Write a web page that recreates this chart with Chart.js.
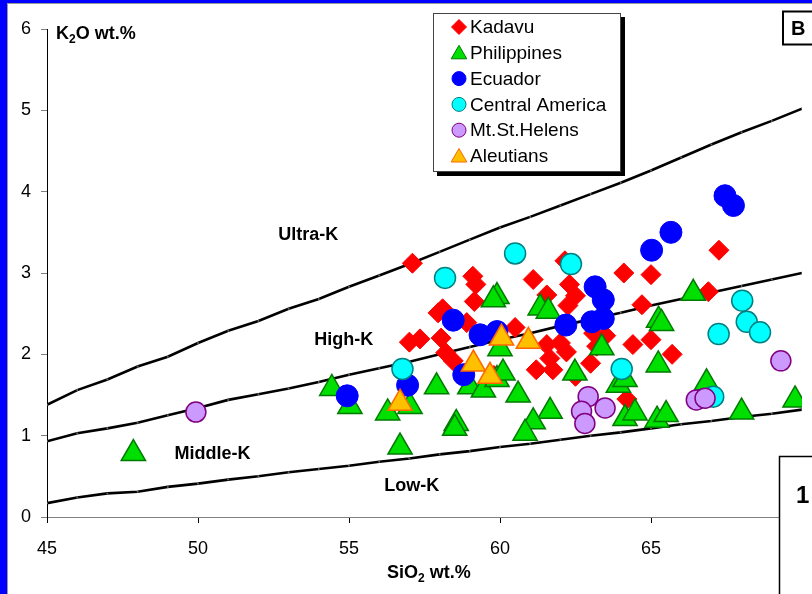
<!DOCTYPE html>
<html>
<head>
<meta charset="utf-8">
<script src="https://cdn.jsdelivr.net/npm/chart.js@4.4.0/dist/chart.umd.min.js"></script>
<style>
  html, body { margin: 0; padding: 0; background: #0000ff; overflow: hidden; }
  #panel { position: absolute; left: 7px; top: 3px; width: 830px; height: 620px; background: #fff;
           border-left: 1px solid #9a9a9a; border-top: 1px solid #9a9a9a; }
  #chart { position: absolute; left: 0; top: 0; }
</style>
</head>
<body>
<div id="panel"></div>
<canvas id="chart" width="812" height="594"></canvas>
<script>
// SiO2 vs K2O classification plot
const xTicks = [45, 50, 55, 60, 65, 70];
const yTicks = [0, 1, 2, 3, 4, 5, 6];

const boundarySiO2 = [45, 46, 47, 48, 49, 50, 51, 52, 53, 54, 55, 56, 57, 58, 59, 60, 61, 62, 63, 64, 65, 66, 67, 68, 69, 70];
const ultraKLine = [1.38, 1.56, 1.69, 1.85, 1.97, 2.14, 2.29, 2.41, 2.56, 2.68, 2.83, 2.97, 3.11, 3.26, 3.41, 3.56, 3.69, 3.83, 3.97, 4.11, 4.26, 4.42, 4.58, 4.73, 4.87, 5.02];
const highKLine = [0.93, 1.03, 1.09, 1.16, 1.25, 1.34, 1.44, 1.51, 1.58, 1.66, 1.75, 1.83, 1.91, 2.00, 2.09, 2.18, 2.26, 2.35, 2.43, 2.51, 2.60, 2.68, 2.76, 2.84, 2.92, 3.00];
const lowKLine = [0.17, 0.24, 0.29, 0.31, 0.37, 0.41, 0.46, 0.50, 0.55, 0.59, 0.63, 0.68, 0.72, 0.77, 0.81, 0.86, 0.90, 0.95, 1.00, 1.04, 1.09, 1.14, 1.18, 1.23, 1.27, 1.32];

const kadavuSiO2 = [57.1, 59.1, 59.2, 59.15, 57.95, 58.1, 58.9, 57.0, 57.35, 58.05, 58.2, 58.45, 59.8, 59.9, 61.1, 62.15, 61.55, 62.3, 62.5, 62.25, 64.1, 65.0, 64.7, 60.5, 64.4, 65.0, 61.55, 62.0, 62.2, 61.2, 61.75, 61.65, 63.0, 63.2, 64.2, 62.5, 67.25, 66.9, 65.7, 63.1, 63.5];
const kadavuK2O = [3.12, 2.96, 2.86, 2.65, 2.51, 2.56, 2.39, 2.15, 2.19, 2.20, 2.02, 1.92, 1.74, 2.22, 2.92, 3.15, 2.73, 2.86, 2.72, 2.60, 3.00, 2.98, 2.61, 2.33, 2.12, 2.18, 2.12, 2.14, 2.03, 1.81, 1.81, 1.95, 1.89, 2.10, 1.45, 1.73, 3.28, 2.77, 2.00, 2.26, 2.23];

const philippinesSiO2 = [47.86, 54.43, 55.03, 56.28, 56.69, 57.02, 57.9, 58.55, 58.5, 59.9, 59.78, 60.0, 59.0, 59.45, 59.9, 60.1, 60.6, 61.66, 61.1, 60.83, 61.33, 61.6, 63.37, 62.48, 63.92, 64.14, 64.14, 64.47, 65.2, 65.5, 65.25, 65.35, 65.24, 66.4, 66.84, 69.77, 68.0];
const philippinesK2O = [0.78, 1.58, 1.36, 1.28, 0.86, 1.36, 1.60, 1.15, 1.09, 2.71, 2.67, 2.07, 1.60, 1.56, 1.69, 1.77, 1.50, 1.30, 1.17, 1.03, 2.57, 2.53, 2.08, 1.77, 1.62, 1.69, 1.21, 1.28, 1.19, 1.26, 2.42, 2.38, 1.87, 2.75, 1.65, 1.44, 1.29];

const ecuadorSiO2 = [54.94, 56.94, 58.8, 58.45, 59.34, 59.9, 63.15, 63.42, 63.04, 63.42, 62.18, 65.02, 67.45, 67.73, 65.66];
const ecuadorK2O = [1.49, 1.62, 1.75, 2.42, 2.24, 2.28, 2.83, 2.67, 2.40, 2.44, 2.36, 3.28, 3.95, 3.83, 3.50];

const centralAmSiO2 = [58.18, 60.5, 62.35, 56.77, 64.03, 68.02, 68.17, 68.61, 67.24, 67.06];
const centralAmK2O = [2.94, 3.24, 3.11, 1.82, 1.82, 2.66, 2.40, 2.27, 2.25, 1.48];

const stHelensSiO2 = [49.93, 62.92, 62.7, 62.81, 63.48, 66.5, 66.79, 69.3];
const stHelensK2O = [1.29, 1.48, 1.30, 1.15, 1.34, 1.44, 1.46, 1.92];

const aleutiansSiO2 = [56.69, 59.12, 59.67, 60.05, 60.94];
const aleutiansK2O = [1.40, 1.88, 1.73, 2.20, 2.16];

const FONT = '"Liberation Sans", Arial, sans-serif';

function pairs(xs, ys) {
    return xs.map((x, i) => ({ x: x, y: ys[i] }));
}

// legend entries, drawn by hand below
const legendItems = [
    { label: 'Kadavu', shape: 'diamond', fill: '#ff0000', stroke: '#ff0000' },
    { label: 'Philippines', shape: 'triangle', fill: '#00e000', stroke: '#007a00' },
    { label: 'Ecuador', shape: 'circle', fill: '#0000ff', stroke: '#0000ff' },
    { label: 'Central America', shape: 'circle', fill: '#00ffff', stroke: '#008080' },
    { label: 'Mt.St.Helens', shape: 'circle', fill: '#cc99ff', stroke: '#800080' },
    { label: 'Aleutians', shape: 'triangle', fill: '#ffc000', stroke: '#ff6600' }
];

function marker(ctx, shape, x, y, r, fill, stroke) {
    ctx.beginPath();
    if (shape === 'diamond') {
        ctx.moveTo(x - r, y); ctx.lineTo(x, y - r); ctx.lineTo(x + r, y); ctx.lineTo(x, y + r);
    } else if (shape === 'triangle') {
        ctx.moveTo(x, y - r);
        ctx.lineTo(x + r * 0.866, y + r / 2);
        ctx.lineTo(x - r * 0.866, y + r / 2);
    } else {
        ctx.arc(x, y, r, 0, Math.PI * 2);
    }
    ctx.closePath();
    ctx.fillStyle = fill;
    ctx.fill();
    ctx.lineWidth = 1;
    ctx.strokeStyle = stroke;
    ctx.stroke();
}

// text with subscript parts: [[text, isSub], ...]
function subText(ctx, parts, x, y) {
    parts.forEach(p => {
        ctx.font = p[1] ? 'bold 12px ' + FONT : 'bold 18px ' + FONT;
        ctx.fillText(p[0], x, p[1] ? y + 4 : y);
        x += ctx.measureText(p[0]).width;
    });
}

const extras = {
    id: 'extras',
    afterDraw(chart) {
        const ctx = chart.ctx;
        const xs = chart.scales.x, ys = chart.scales.y;
        ctx.save();
        ctx.fillStyle = '#000';
        ctx.textAlign = 'center';
        ctx.textBaseline = 'middle';
        ctx.font = 'bold 18px ' + FONT;
        ctx.fillText('Ultra-K', xs.getPixelForValue(53.65), ys.getPixelForValue(3.47));
        ctx.fillText('High-K', xs.getPixelForValue(54.83), ys.getPixelForValue(2.18));
        ctx.fillText('Middle-K', xs.getPixelForValue(50.48), ys.getPixelForValue(0.77));
        ctx.fillText('Low-K', xs.getPixelForValue(57.08), ys.getPixelForValue(0.38));

        ctx.textAlign = 'left';
        ctx.textBaseline = 'alphabetic';
        subText(ctx, [['K', false], ['2', true], ['O wt.%', false]], 56, 39);
        subText(ctx, [['SiO', false], ['2', true], [' wt.%', false]], 387, 578);

        // legend box with drop shadow
        ctx.fillStyle = '#000';
        ctx.fillRect(437, 17, 188, 159);
        ctx.fillStyle = '#fff';
        ctx.fillRect(433.5, 13.5, 187, 158);
        ctx.strokeStyle = '#444';
        ctx.lineWidth = 1;
        ctx.strokeRect(433.5, 13.5, 187, 158);
        ctx.font = '19px ' + FONT;
        ctx.textBaseline = 'middle';
        legendItems.forEach((it, i) => {
            const y = 27 + i * 25.8;
            const r = it.shape === 'diamond' ? 7.5 : (it.shape === 'triangle' ? 9 : 7);
            marker(ctx, it.shape, 459, it.shape === 'triangle' ? y + 1.5 : y, r, it.fill, it.stroke);
            ctx.fillStyle = '#000';
            ctx.fillText(it.label, 470, y + 1);
        });

        // panel tag boxes
        ctx.fillStyle = '#fff';
        ctx.fillRect(783, 11.5, 40, 33);
        ctx.strokeStyle = '#000';
        ctx.lineWidth = 2;
        ctx.strokeRect(783, 11.5, 40, 33);
        ctx.fillStyle = '#000';
        ctx.font = 'bold 20px ' + FONT;
        ctx.fillText('B', 791, 29);

        ctx.fillStyle = '#fff';
        ctx.fillRect(779.5, 456.5, 50, 150);
        ctx.lineWidth = 1.5;
        ctx.strokeRect(779.5, 456.5, 50, 150);
        ctx.fillStyle = '#000';
        ctx.font = 'bold 24px ' + FONT;
        ctx.textBaseline = 'alphabetic';
        ctx.fillText('1', 796, 503);
        ctx.restore();
    }
};

function boundary(values) {
    return {
        type: 'line',
        data: pairs(boundarySiO2, values),
        borderColor: '#000',
        borderWidth: 2.6,
        pointRadius: 1,
        pointBackgroundColor: '#666',
        pointBorderWidth: 0,
        showLine: true,
        tension: 0,
        order: 10
    };
}

new Chart(document.getElementById('chart'), {
    type: 'scatter',
    data: {
        datasets: [
            {
                label: 'Aleutians', data: pairs(aleutiansSiO2, aleutiansK2O),
                pointStyle: 'triangle', pointRadius: 14, backgroundColor: '#ffc000',
                borderColor: '#ff6600', borderWidth: 1.5, order: 1
            },
            {
                label: 'Mt.St.Helens', data: pairs(stHelensSiO2, stHelensK2O),
                pointStyle: 'circle', pointRadius: 10, backgroundColor: '#cc99ff',
                borderColor: '#800080', borderWidth: 1.5, order: 2
            },
            {
                label: 'Central America', data: pairs(centralAmSiO2, centralAmK2O),
                pointStyle: 'circle', pointRadius: 10.5, backgroundColor: '#00ffff',
                borderColor: '#008080', borderWidth: 1.5, order: 3
            },
            {
                label: 'Ecuador', data: pairs(ecuadorSiO2, ecuadorK2O),
                pointStyle: 'circle', pointRadius: 11, backgroundColor: '#0000ff',
                borderColor: '#0000ff', borderWidth: 1, order: 4
            },
            {
                label: 'Philippines', data: pairs(philippinesSiO2, philippinesK2O),
                pointStyle: 'triangle', pointRadius: 14, backgroundColor: '#00e000',
                borderColor: '#007a00', borderWidth: 1.5, order: 5
            },
            {
                label: 'Kadavu', data: pairs(kadavuSiO2, kadavuK2O),
                pointStyle: 'rectRot', pointRadius: 10, backgroundColor: '#ff0000',
                borderColor: '#ff0000', borderWidth: 1, order: 6
            },
            boundary(ultraKLine),
            boundary(highKLine),
            boundary(lowKLine)
        ]
    },
    options: {
        responsive: false,
        animation: false,
        events: [],
        layout: { autoPadding: false, padding: { left: 0, top: 29, right: 10, bottom: 0 } },
        plugins: { legend: { display: false }, tooltip: { enabled: false } },
        scales: {
            x: {
                type: 'linear',
                min: xTicks[0], max: xTicks[xTicks.length - 1],
                afterBuildTicks: (s) => { s.ticks = xTicks.map(v => ({ value: v })); },
                afterFit: (s) => { s.height = 77; s.paddingLeft = 0; s.paddingRight = 0; },
                grid: { drawOnChartArea: false, tickLength: 6, tickColor: '#000' },
                border: { color: '#808080', width: 1 },
                ticks: { color: '#000', padding: 15, maxRotation: 0, font: { family: FONT, size: 18 } }
            },
            y: {
                type: 'linear',
                min: yTicks[0], max: yTicks[yTicks.length - 1],
                afterBuildTicks: (s) => { s.ticks = yTicks.map(v => ({ value: v })); },
                afterFit: (s) => { s.width = 47; s.paddingTop = 0; s.paddingBottom = 0; },
                grid: { drawOnChartArea: false, tickLength: 6, tickColor: '#808080' },
                border: { color: '#000', width: 1 },
                ticks: { color: '#000', padding: 10, font: { family: FONT, size: 18 } }
            }
        }
    },
    plugins: [extras]
});
</script>
</body>
</html>
